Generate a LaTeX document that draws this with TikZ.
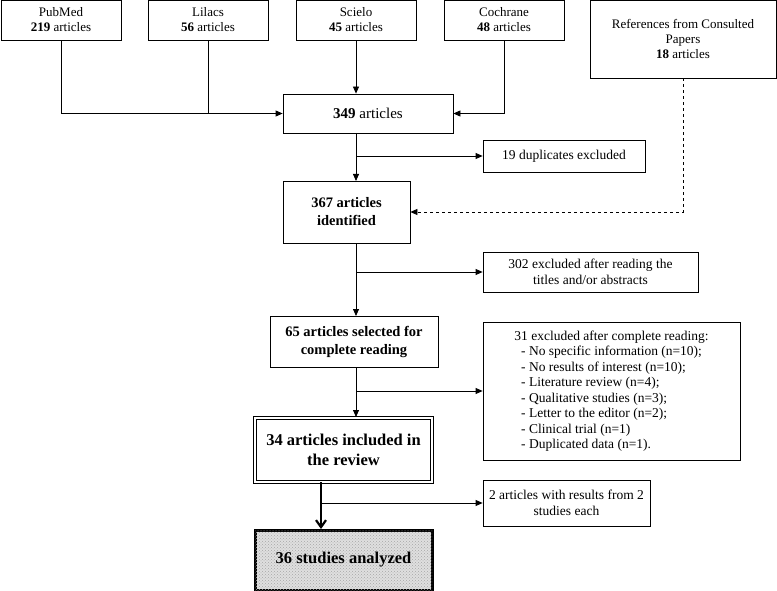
\documentclass[tikz,border=0pt]{standalone}
\usepackage{fontspec}
\setmainfont{Liberation Serif}
\usetikzlibrary{arrows.meta,patterns}
\begin{document}
\begin{tikzpicture}[x=1pt,y=-1pt,
  box/.style={draw,line width=0.8pt,align=center,inner sep=0pt,font=\fontsize{13}{15}\selectfont},
  arr/.style={-{Triangle[length=7pt,width=6pt]},line width=0.8pt},
  ln/.style={line width=0.8pt}]
\useasboundingbox (0,0) rectangle (777,591);
\node[box,minimum width=120,minimum height=40] (pub) at (61,20) {PubMed\\\textbf{219} articles};
\node[box,minimum width=120,minimum height=40] (lil) at (208,20) {Lilacs\\\textbf{56} articles};
\node[box,minimum width=120,minimum height=40] (sci) at (356,20) {Scielo\\\textbf{45} articles};
\node[box,minimum width=120,minimum height=40] (coc) at (504,20) {Cochrane\\\textbf{48} articles};
\node[box,minimum width=186,minimum height=78] (ref) at (683,39) {References from Consulted\\Papers\\\textbf{18} articles};
\node[box,minimum width=170,minimum height=39,font=\fontsize{15}{17}\selectfont] (a349) at (368,113.5) {\textbf{349} articles};
\node[box,minimum width=162,minimum height=32,font=\fontsize{13.5}{15}\selectfont] (dup) at (564,156) {19 duplicates excluded};
\node[box,minimum width=127,minimum height=62,font=\bfseries\fontsize{14.5}{18}\selectfont] (a367) at (346.5,212) {367 articles\\identified};
\node[box,minimum width=215,minimum height=40,font=\fontsize{13.5}{16}\selectfont] (ex302) at (590.5,272) {302 excluded after reading the\\titles and/or abstracts};
\node[box,minimum width=168,minimum height=51,font=\bfseries\fontsize{14.5}{18}\selectfont] (a65) at (354,341.5) {65 articles selected for\\complete reading};
\node[box,minimum width=257,minimum height=138,align=left,font=\fontsize{13.5}{15.5}\selectfont] (ex31) at (611.5,391) {31 excluded after complete reading:\\
\ \ - No specific information (n=10);\\
\ \ - No results of interest (n=10);\\
\ \ - Literature review (n=4);\\
\ \ - Qualitative studies (n=3);\\
\ \ - Letter to the editor (n=2);\\
\ \ - Clinical trial (n=1)\\
\ \ - Duplicated data (n=1).};
\node[box,double,double distance=2pt,line width=1.2pt,minimum width=177,minimum height=64,font=\bfseries\fontsize{16.5}{20}\selectfont] (a34) at (343.5,450) {34 articles included in\\the review};
\node[box,minimum width=167,minimum height=46,font=\fontsize{13.5}{16}\selectfont] (ex2) at (566.5,503) {2 articles with results from 2\\studies each};
\node[box,line width=3pt,minimum width=177,minimum height=60,fill=gray!25,postaction={pattern=crosshatch dots,pattern color=gray!70},font=\bfseries\fontsize{16.5}{20}\selectfont] (a36) at (343.5,560) {36 studies analyzed};
\coordinate (j1) at (208,113);
\draw[ln] (pub.south) |- (j1);
\draw[arr] (lil.south) |- (a349.west);
\draw[arr] (sci.south) -- (sci.south |- a349.north);
\draw[arr] (coc.south) |- (a349.east);
\draw[arr,dashed] (ref.south) |- (a367.east);
\draw[arr] (356,133) -- (356,181);
\draw[arr] (356,156) -- (dup.west);
\draw[arr] (356,243) -- (356,316);
\draw[arr] (356,272) -- (ex302.west);
\draw[arr] (356,367) -- (356,417);
\draw[arr] (356,391) -- (ex31.west);
\coordinate (b34) at (321,503);
\draw[arr] (b34) -- (ex2.west);
\draw[-{Straight Barb[length=7pt,width=10pt]},line width=2.2pt] (321,482) -- (321,529);
\end{tikzpicture}
\end{document}
